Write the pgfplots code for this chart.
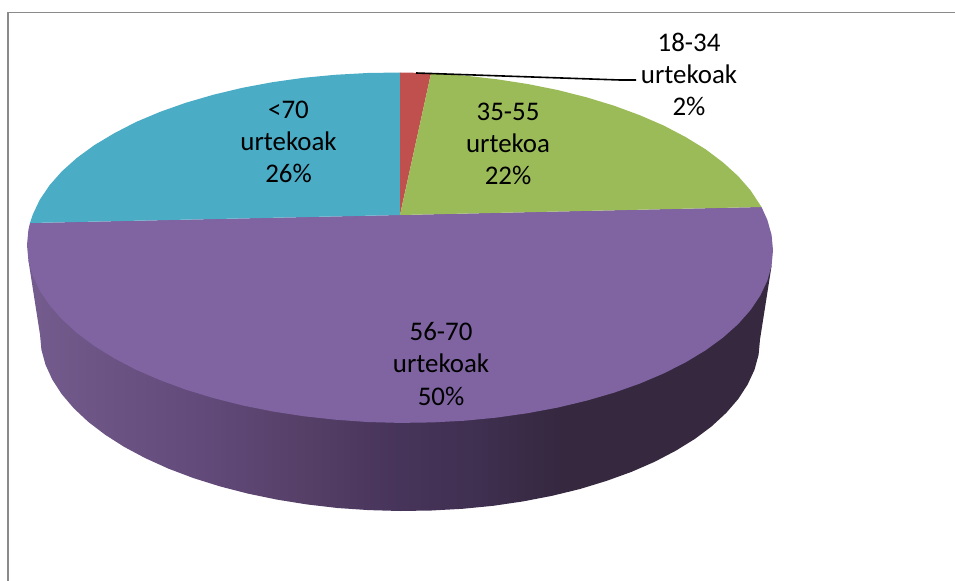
\documentclass[border=0pt]{standalone}
\usepackage{pgfplots}
\pgfplotsset{compat=1.18}
\usepackage{fontspec}
\setmainfont{Carlito}
\definecolor{cblue}{HTML}{4BACC6}
\definecolor{cred}{HTML}{C0504D}
\definecolor{cgreen}{HTML}{9BBB59}
\definecolor{cpurple}{HTML}{8064A2}
\definecolor{cframe}{HTML}{8A8A8A}
\definecolor{s0}{HTML}{745C8E}
\definecolor{s1}{HTML}{6C5485}
\definecolor{s2}{HTML}{624A7A}
\definecolor{s3}{HTML}{564068}
\definecolor{s4}{HTML}{47345A}
\definecolor{s5}{HTML}{3F2F50}
\definecolor{s6}{HTML}{35283F}
\pgfdeclarehorizontalshading{pieside}{100bp}{color(0bp)=(s0); color(25bp)=(s0); color(29.8bp)=(s1); color(36.6bp)=(s2); color(43.3bp)=(s3); color(50bp)=(s4); color(55.4bp)=(s5); color(60.8bp)=(s6); color(100bp)=(s6)}
\begin{document}
\begin{tikzpicture}
\begin{axis}[
  width=955bp, height=581bp, scale only axis,
  xmin=0, xmax=955, ymin=0, ymax=581, y dir=reverse,
  axis lines=none, ticks=none, clip=true,
]
\path (axis cs:0,0) rectangle (axis cs:955,581);
% frame
\addplot[cframe, line width=1.4bp] coordinates {(8,581) (8,12.5) (955,12.5)};
% side wall
\addplot[draw=none, shading=pieside] coordinates {
 (771.6,265.6) (760,339.5) (758.6,354.7) (754.5,369.7) (747.7,384.4) (738.3,398.9) (726.3,412.8) (711.8,426.2) (694.9,438.9) (675.8,450.7) (654.6,461.8) (631.4,471.9) (606.5,480.9) (580,489) (552.1,495.8) (523.1,501.4) (493.2,505.8) (462.5,508.8) (431.4,510.5) (400,511)
 (368.6,510.1) (337.5,508) (306.8,504.4) (276.9,499.6) (247.9,493.6) (220,486.4) (193.5,478.1) (168.6,468.7) (145.4,458.2) (124.2,446.9) (105.1,434.7) (88.2,421.8) (73.7,408.2) (61.7,394.1) (52.3,379.6) (45.5,364.7) (41.4,349.7) (40,334.5) (28.4,260.4) (771.6,265.6)};
% purple top: 56-70 urtekoak
\addplot[draw=none, fill=cpurple] coordinates {
 (400,215) (761.5,207) (767.3,219.8) (771.6,235) (773,250.3) (771.6,265.6) (767.3,280.7) (760.3,295.5) (750.5,310.1) (738.1,324.1) (723,337.6) (705.6,350.3) (685.7,362.3) (663.8,373.4) (639.8,383.6) (614,392.7) (586.5,400.7) (557.6,407.6) (527.6,413.2) (496.5,417.6) (464.8,420.7) (432.5,422.4) (400,422.9)
 (367.5,422) (335.2,419.7) (303.5,416.2) (272.4,411.4) (242.4,405.4) (213.5,398.1) (186,389.7) (160.2,380.2) (136.2,369.8) (114.3,358.3) (94.4,346.1) (77,333) (61.9,319.3) (49.5,305.1) (39.7,290.5) (32.7,275.5) (28.4,260.4) (27,245.1) (28.4,229.8) (30,223) (400,215)};
% blue: <70 urtekoak
\addplot[draw=none, fill=cblue] coordinates {
 (400,215) (30,223) (32.7,214.7) (39.7,199.9) (49.5,185.3) (61.9,171.3) (77,157.8) (94.4,145.1) (114.3,133.2) (136.2,121.9) (160.2,111.8) (186,102.7) (213.5,94.7) (242.4,87.8) (272.4,82.2) (303.5,77.8) (335.2,74.8) (367.5,73) (400,72.5) (400,215)};
% red: 18-34 urtekoak
\addplot[draw=none, fill=cred] coordinates {
 (400,215) (400,72.5) (416,72.8) (431,73.5) (400,215)};
% green: 35-55 urtekoa
\addplot[draw=none, fill=cgreen] coordinates {
 (400,215) (431,73.5) (464.8,75.6) (496.5,79.2) (527.6,84) (557.6,90) (586.5,97.3) (614,105.7) (639.8,115.2) (663.8,125.6) (685.7,137.1) (705.6,149.3) (723,162.4) (738.1,176.1) (750.5,190.3) (761.5,207) (400,215)};
% leader
\addplot[black, line width=1.6bp] coordinates {(416,73) (620,80) (636,80)};
\begin{scope}[every node/.style={align=center, font=\fontsize{27}{32.5}\selectfont, text=black, inner sep=0pt}]
\node at (axis cs:689,74.5) {18-34\\urtekoak\\2\%};
\node at (axis cs:288.5,142) {<70\\urtekoak\\26\%};
\node at (axis cs:508,144) {35-55\\urtekoa\\22\%};
\node at (axis cs:441,364) {56-70\\urtekoak\\50\%};
\end{scope}
\end{axis}
\end{tikzpicture}
\end{document}
